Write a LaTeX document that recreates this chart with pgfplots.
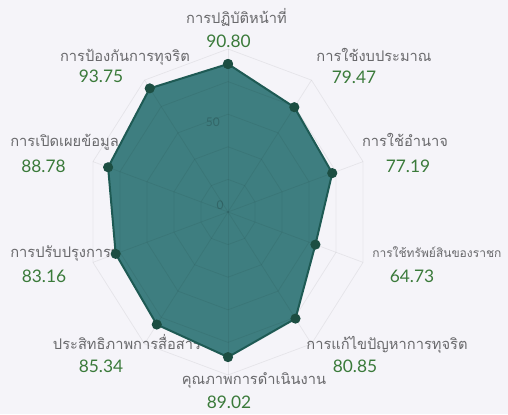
\documentclass[border=0pt]{standalone}
\usepackage{fontspec}
\usepackage{pgfplots}
\pgfplotsset{compat=1.18}
\newfontfamily\thaifont[Script=Thai]{Loma}
\newfontfamily\numfont{Lato}
\definecolor{bg}{RGB}{245,244,249}
\definecolor{fillc}{RGB}{62,126,128}
\definecolor{edgec}{RGB}{30,90,84}
\definecolor{markc}{RGB}{28,78,66}
\definecolor{labc}{RGB}{105,105,108}
\definecolor{numc}{RGB}{58,122,58}
\newcommand{\lab}[3]{\node[anchor=base,font=\thaifont\fontsize{11}{13}\selectfont,text=labc,inner sep=0pt] at (axis cs:#1,#2) {#3};}
\newcommand{\labw}[3]{\node[anchor=base west,font=\thaifont\fontsize{11}{13}\selectfont,text=labc,inner sep=0pt] at (axis cs:#1,#2) {#3};}
\newcommand{\num}[3]{\node[anchor=base,font=\numfont\fontsize{13}{15}\selectfont,text=numc,inner sep=0pt] at (axis cs:#1,#2) {#3};}
\begin{document}
\begin{tikzpicture}
\begin{axis}[x=1.065pt,y=1.2225pt,
  xmin=-160.56,xmax=197.18,ymin=-123.93,ymax=130.06,
  hide axis, clip=false]
\coordinate (bl) at (rel axis cs:0,0);
\coordinate (tr) at (rel axis cs:1,1);
\fill[bg] (rel axis cs:0,0) rectangle (rel axis cs:1,1);
% category labels
\lab{5.99}{115.34}{การปฏิบัติหน้าที่}
\lab{102.82}{92.02}{การใช้งบประมาณ}
\lab{124.65}{39.88}{การใช้อำนาจ}
\node[anchor=base west,font=\thaifont\fontsize{9}{11}\selectfont,text=labc,inner sep=0pt] at (axis cs:101.4,-28.22) {การใช้ทรัพย์สินของราชก};
\lab{111.97}{-84.05}{การแก้ไขปัญหาการทุจริต}
\lab{18.31}{-106.13}{คุณภาพการดำเนินงาน}
\lab{-71.13}{-84.05}{ประสิทธิภาพการสื่อสาร}
\labw{-153.52}{-28.22}{การปรับปรุงการทำงาน}
\labw{-153.52}{39.88}{การเปิดเผยข้อมูล}
\lab{-72.54}{92.02}{การป้องกันการทุจริต}
% values
\num{0.35}{100.61}{90.80}
\num{88.73}{78.96}{79.47}
\num{126.76}{23.93}{77.19}
\num{129.58}{-43.56}{64.73}
\num{89.44}{-98.77}{80.85}
\num{0.70}{-120.25}{89.02}
\num{-89.44}{-98.77}{85.34}
\num{-129.58}{-43.56}{83.16}
\num{-129.93}{23.93}{88.78}
\num{-89.44}{79.14}{93.75}
% filled polygon
\addplot[data cs=polar, fill=fillc, draw=none, forget plot] coordinates {
  (90,90.80) (54,79.47) (18,77.19) (-18,64.73) (-54,80.85)
  (-90,89.02) (-126,85.34) (-162,83.16) (162,88.78) (126,93.75) (90,90.80)} -- cycle;
% grid
\pgfplotsinvokeforeach{20,40,60,80,100}{
  \addplot[data cs=polar, draw=black, draw opacity=0.06, line width=0.6pt, forget plot]
    coordinates {(90,#1) (54,#1) (18,#1) (-18,#1) (-54,#1) (-90,#1) (-126,#1) (-162,#1) (162,#1) (126,#1) (90,#1)};
}
\pgfplotsinvokeforeach{90,54,18,-18,-54,-90,-126,-162,162,126}{
  \addplot[data cs=polar, draw=black, draw opacity=0.06, line width=0.6pt, forget plot]
    coordinates {(#1,0) (#1,100)};
}
\node[font=\numfont\fontsize{9}{10}\selectfont, text=black, text opacity=0.18] at (axis cs:-5.6,4.3) {0};
\node[font=\numfont\fontsize{9}{10}\selectfont, text=black, text opacity=0.18] at (axis cs:-10.6,55.2) {50};
% edge and markers
\addplot[data cs=polar, draw=edgec, line width=1.5pt, mark=*, mark size=3pt,
  mark options={fill=markc, draw=markc}, forget plot] coordinates {
  (90,90.80) (54,79.47) (18,77.19) (-18,64.73) (-54,80.85)
  (-90,89.02) (-126,85.34) (-162,83.16) (162,88.78) (126,93.75) (90,90.80)};
\end{axis}
\pgfresetboundingbox
\path[use as bounding box] (bl) rectangle (tr);
\end{tikzpicture}
\end{document}
